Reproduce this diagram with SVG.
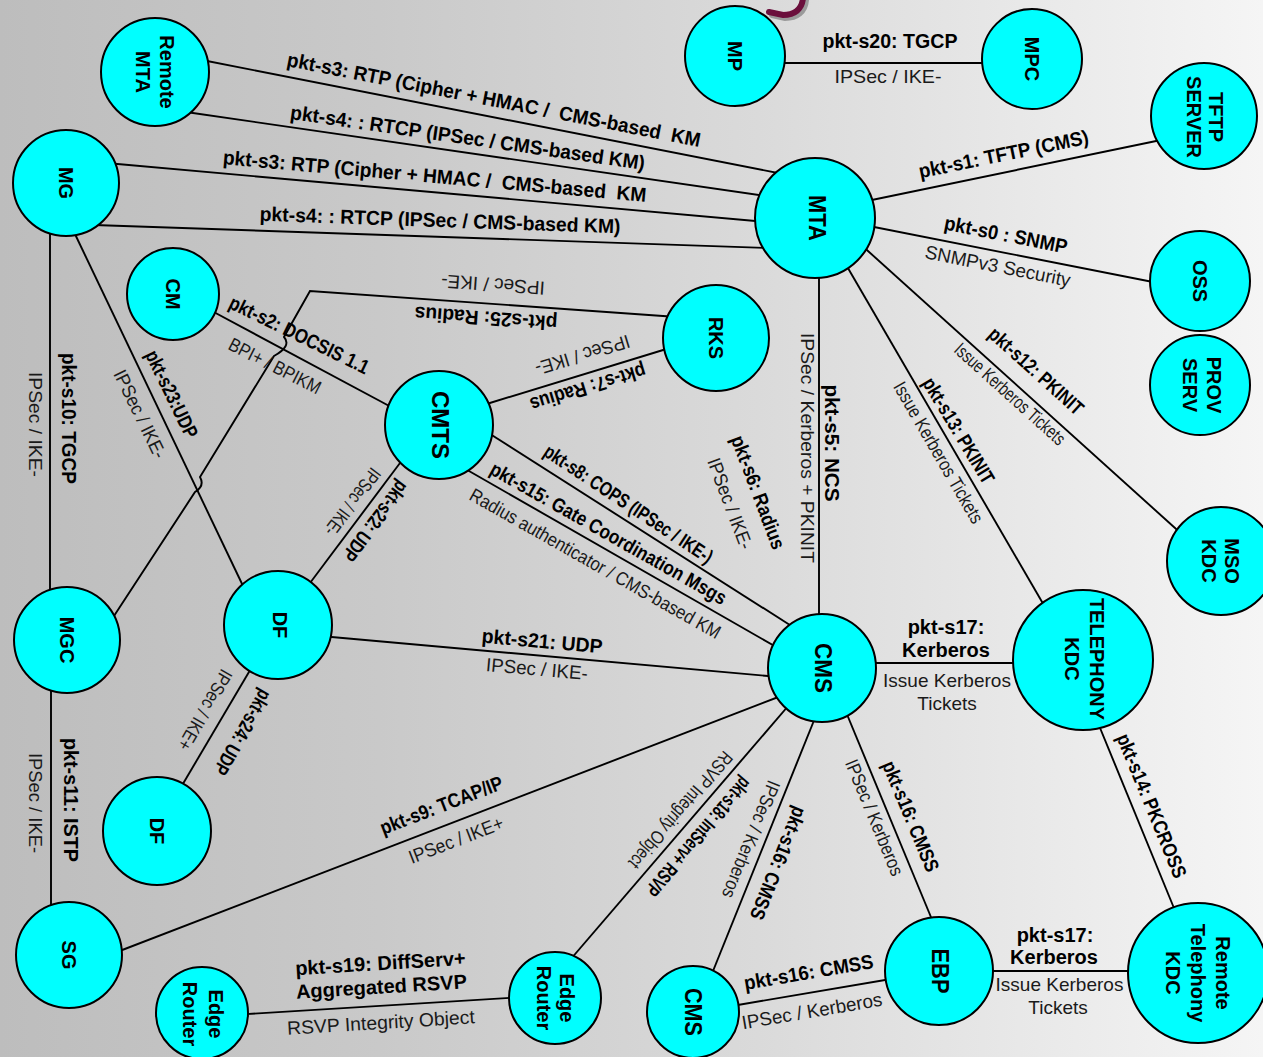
<svg xmlns="http://www.w3.org/2000/svg" width="1263" height="1057" viewBox="0 0 1263 1057">
<defs>
  <linearGradient id="bg" x1="0" y1="0" x2="1" y2="0">
    <stop offset="0" stop-color="#bdbdbd"/>
    <stop offset="0.3" stop-color="#c9c9c9"/>
    <stop offset="0.6" stop-color="#dadada"/>
    <stop offset="1" stop-color="#f5f5f5"/>
  </linearGradient>
</defs>
<style>
  .n circle { fill:#00ffff; stroke:#000; stroke-width:2; }
  .n text { font-family:"Liberation Sans", Arial, sans-serif; font-weight:bold; font-size:20px; fill:#000; text-anchor:middle; }
  #connectors line, #connectors path { stroke:#000; stroke-width:1.9; fill:none; }
  .b { font-family:"Liberation Sans", Arial, sans-serif; font-weight:bold; font-size:20px; fill:#000; text-anchor:middle; }
  .r { font-family:"Liberation Sans", Arial, sans-serif; font-size:19px; fill:#1a1a1a; text-anchor:middle; }
</style>
<rect width="1263" height="1057" fill="url(#bg)"/>
<path d="M806,0 C805,12 797,18 785,18 L772,15" stroke="#9a9a9a" stroke-width="6" fill="none" stroke-linecap="round"/>
<path d="M803,-2 C802,9 795,15 783,15 L769,12" stroke="#6b0f3c" stroke-width="6" fill="none" stroke-linecap="round"/>

<g id="connectors">
  <line id="e-rmta-mta-1" x1="202" y1="60" x2="783" y2="174"/>
  <line id="e-rmta-mta-2" x1="186" y1="112" x2="766" y2="196"/>
  <line id="e-mg-mta-1" x1="112" y1="163.5" x2="761" y2="221.5"/>
  <line id="e-mg-mta-2" x1="94" y1="225" x2="768" y2="248"/>
  <line id="e-mp-mpc" x1="780" y1="63" x2="987" y2="63"/>
  <line id="e-mta-tftp" x1="867" y1="201" x2="1161" y2="140"/>
  <line id="e-mta-oss" x1="869" y1="226" x2="1158" y2="283"/>
  <line id="e-mta-msokdc" x1="863" y1="246.5" x2="1180" y2="532.5"/>
  <line id="e-mta-telkdc" x1="845" y1="263" x2="1045" y2="607"/>
  <line id="e-mta-cms" x1="819" y1="275" x2="819" y2="616"/>
  <line id="e-cmts-cms-s8" x1="487" y1="432" x2="793" y2="627"/>
  <line id="e-cmts-cms-s15" x1="462" y1="467" x2="778" y2="648"/>
  <line id="e-cmts-rks" x1="485" y1="404.5" x2="668" y2="348.5"/>
  <path id="e-mgc-rks" d="M670,316.5 L310,291 L284,337 Q292,346 274,356 L200,477 Q205,486 195,492 L112,619"/>
  <line id="e-cm-cmts" x1="210" y1="310" x2="393" y2="408"/>
  <line id="e-mg-mgc" x1="50" y1="232" x2="50" y2="592"/>
  <line id="e-mg-df" x1="74" y1="232" x2="244" y2="588"/>
  <line id="e-mgc-sg" x1="51" y1="688" x2="51" y2="906"/>
  <line id="e-cmts-df" x1="403" y1="459" x2="310" y2="583"/>
  <line id="e-df-cms" x1="326" y1="636.5" x2="774" y2="676.5"/>
  <line id="e-df-df" x1="252.5" y1="666" x2="180.5" y2="788"/>
  <line id="e-sg-cms" x1="117" y1="952" x2="781" y2="696"/>
  <line id="e-cms-edge" x1="789" y1="705" x2="570" y2="960"/>
  <line id="e-cms-cms2" x1="815" y1="718" x2="711" y2="976"/>
  <line id="e-cms-ebp" x1="846" y1="712" x2="933" y2="922"/>
  <line id="e-cms-telkdc" x1="870" y1="663" x2="1019" y2="663"/>
  <line id="e-telkdc-rtelkdc" x1="1098" y1="723" x2="1176" y2="913"/>
  <line id="e-ebp-rtelkdc" x1="987" y1="971" x2="1134" y2="971"/>
  <line id="e-cms2-ebp" x1="732" y1="1006" x2="891" y2="979"/>
  <line id="e-edge-edge" x1="242" y1="1014.4" x2="514" y2="997.6"/>
</g>

<g id="connector-labels">
  <text class="b" xml:space="preserve" transform="translate(493.5,101.5) rotate(11.1)" y="5" textLength="421" lengthAdjust="spacingAndGlyphs">pkt-s3: RTP (Cipher + HMAC /  CMS-based  KM</text>
  <text class="b" transform="translate(467.5,139.5) rotate(8.2)" y="5" textLength="358" lengthAdjust="spacingAndGlyphs">pkt-s4: : RTCP (IPSec / CMS-based KM)</text>
  <text class="b" xml:space="preserve" transform="translate(434.5,178) rotate(5.1)" y="5" textLength="425" lengthAdjust="spacingAndGlyphs">pkt-s3: RTP (Cipher + HMAC /  CMS-based  KM</text>
  <text class="b" transform="translate(440,222) rotate(2)" y="5" textLength="361" lengthAdjust="spacingAndGlyphs">pkt-s4: : RTCP (IPSec / CMS-based KM)</text>
  <text class="b" transform="translate(890,43)" y="5" textLength="135" lengthAdjust="spacingAndGlyphs">pkt-s20: TGCP</text>
  <text class="r" transform="translate(888,76)" y="6.5" textLength="107" lengthAdjust="spacingAndGlyphs">IPSec / IKE-</text>
  <text class="b" transform="translate(1004,156) rotate(-11.6)" y="5" textLength="173" lengthAdjust="spacingAndGlyphs">pkt-s1: TFTP (CMS)</text>
  <text class="b" transform="translate(1005.5,236.5) rotate(11.2)" y="5" textLength="125" lengthAdjust="spacingAndGlyphs">pkt-s0 : SNMP</text>
  <text class="r" transform="translate(997.5,267.5) rotate(11.2)" y="5" textLength="148" lengthAdjust="spacingAndGlyphs">SNMPv3 Security</text>
  <text class="b" transform="translate(1035,372.5) rotate(42)" y="5" textLength="120" lengthAdjust="spacingAndGlyphs">pkt-s12: PKINIT</text>
  <text class="r" transform="translate(1010,394) rotate(42)" y="6.5" textLength="142" lengthAdjust="spacingAndGlyphs">Issue Kerberos Tickets</text>
  <text class="b" transform="translate(957,431.5) rotate(59)" y="5" textLength="120" lengthAdjust="spacingAndGlyphs">pkt-s13: PKINIT</text>
  <text class="r" transform="translate(938.5,452.5) rotate(60)" y="6.5" textLength="160" lengthAdjust="spacingAndGlyphs">Issue Kerberos Tickets</text>
  <text class="b" transform="translate(830,443) rotate(90)" y="5" textLength="117" lengthAdjust="spacingAndGlyphs">pkt-s5: NCS</text>
  <text class="r" transform="translate(807,448) rotate(90)" y="6.5" textLength="230" lengthAdjust="spacingAndGlyphs">IPSec / Kerberos + PKINIT</text>
  <text class="b" transform="translate(627.5,505.5) rotate(33.5)" y="5" textLength="198" lengthAdjust="spacingAndGlyphs">pkt-s8: COPS (IPSec / IKE-)</text>
  <text class="b" transform="translate(607.5,535) rotate(29.5)" y="5" textLength="268" lengthAdjust="spacingAndGlyphs">pkt-s15: Gate Coordination Msgs</text>
  <text class="r" transform="translate(595,564) rotate(29.5)" y="6" textLength="285" lengthAdjust="spacingAndGlyphs">Radius authenticator / CMS-based KM</text>
  <text class="b" transform="translate(587.5,386) rotate(163)" y="5" textLength="120" lengthAdjust="spacingAndGlyphs">pkt-s7: Radius</text>
  <text class="r" transform="translate(582.5,355) rotate(163)" y="6.5" textLength="98" lengthAdjust="spacingAndGlyphs">IPSec / IKE-</text>
  <text class="b" transform="translate(486,316.5) rotate(184)" y="5" textLength="143" lengthAdjust="spacingAndGlyphs">pkt-s25: Radius</text>
  <text class="r" transform="translate(493,284.5) rotate(184)" y="6.5" textLength="104" lengthAdjust="spacingAndGlyphs">IPSec / IKE-</text>
  <text class="b" transform="translate(298.5,336.5) rotate(26)" y="5" textLength="153" lengthAdjust="spacingAndGlyphs">pkt-s2: DOCSIS 1.1</text>
  <text class="r" transform="translate(275,366) rotate(27)" y="6.5" textLength="101" lengthAdjust="spacingAndGlyphs">BPI+ / BPIKM</text>
  <text class="b" transform="translate(67,418.5) rotate(90)" y="5" textLength="131" lengthAdjust="spacingAndGlyphs">pkt-s10: TGCP</text>
  <text class="r" transform="translate(35,424.5) rotate(90)" y="6.5" textLength="105" lengthAdjust="spacingAndGlyphs">IPSec / IKE-</text>
  <text class="b" transform="translate(170,395) rotate(64)" y="5" textLength="95" lengthAdjust="spacingAndGlyphs">pkt-s23:UDP</text>
  <text class="r" transform="translate(140,414) rotate(64)" y="6.5" textLength="96" lengthAdjust="spacingAndGlyphs">IPSec / IKE-</text>
  <text class="b" transform="translate(68.5,800) rotate(90)" y="5" textLength="124" lengthAdjust="spacingAndGlyphs">pkt-s11: ISTP</text>
  <text class="r" transform="translate(35,803) rotate(90)" y="6.5" textLength="100" lengthAdjust="spacingAndGlyphs">IPSec / IKE-</text>
  <text class="b" transform="translate(374,520) rotate(127)" y="5" textLength="95" lengthAdjust="spacingAndGlyphs">pkt-s22: UDP</text>
  <text class="r" transform="translate(352.5,502) rotate(127)" y="6.5" textLength="80" lengthAdjust="spacingAndGlyphs">IPSec / IKE-</text>
  <text class="b" transform="translate(542,643) rotate(5.1)" y="5" textLength="121" lengthAdjust="spacingAndGlyphs">pkt-s21: UDP</text>
  <text class="r" transform="translate(537,669) rotate(5.1)" y="6.5" textLength="102" lengthAdjust="spacingAndGlyphs">IPSec / IKE-</text>
  <text class="b" transform="translate(241,731.5) rotate(120)" y="5" textLength="95" lengthAdjust="spacingAndGlyphs">pkt-s24: UDP</text>
  <text class="r" transform="translate(205,710) rotate(120)" y="6.5" textLength="90" lengthAdjust="spacingAndGlyphs">IPSec / IKE+</text>
  <text class="b" transform="translate(442,807) rotate(-21.1)" y="5" textLength="130" lengthAdjust="spacingAndGlyphs">pkt-s9: TCAP/IP</text>
  <text class="r" transform="translate(456,840) rotate(-21.1)" y="6.5" textLength="100" lengthAdjust="spacingAndGlyphs">IPSec / IKE+</text>
  <text class="b" transform="translate(697,835.5) rotate(130.7)" y="5" textLength="150" lengthAdjust="spacingAndGlyphs">pkt-s18: IntServ+ RSVP</text>
  <text class="r" transform="translate(679.5,809) rotate(130.7)" y="5" textLength="148" lengthAdjust="spacingAndGlyphs">RSVP Integrity Object</text>
  <text class="b" transform="translate(776.5,862.5) rotate(112)" y="5" textLength="120" lengthAdjust="spacingAndGlyphs">pkt-s16: CMSS</text>
  <text class="r" transform="translate(751,839.5) rotate(112)" y="6.5" textLength="125" lengthAdjust="spacingAndGlyphs">IPSec / Kerberos</text>
  <text class="b" transform="translate(909,817) rotate(67.5)" y="5" textLength="118" lengthAdjust="spacingAndGlyphs">pkt-s16: CMSS</text>
  <text class="r" transform="translate(874.5,817.5) rotate(67.5)" y="6.5" textLength="124" lengthAdjust="spacingAndGlyphs">IPSec / Kerberos</text>
  <text class="b" transform="translate(756.5,493) rotate(69.3)" y="5" textLength="120" lengthAdjust="spacingAndGlyphs">pkt-s6: Radius</text>
  <text class="r" transform="translate(730,503.5) rotate(69.3)" y="6.5" textLength="96" lengthAdjust="spacingAndGlyphs">IPSec / IKE-</text>
  <text class="b" transform="translate(1150,806.5) rotate(67.7)" y="5" textLength="154" lengthAdjust="spacingAndGlyphs">pkt-s14: PKCROSS</text>
  <text class="b" transform="translate(809,974) rotate(-9.65)" y="5" textLength="131" lengthAdjust="spacingAndGlyphs">pkt-s16: CMSS</text>
  <text class="r" transform="translate(812,1011) rotate(-9.65)" y="6.5" textLength="142" lengthAdjust="spacingAndGlyphs">IPSec / Kerberos</text>
  <text class="b" x="946" y="634">pkt-s17:</text>
  <text class="b" x="946" y="657">Kerberos</text>
  <text class="r" x="947" y="687">Issue Kerberos</text>
  <text class="r" x="947" y="710">Tickets</text>
  <text class="b" x="1055" y="942">pkt-s17:</text>
  <text class="b" x="1054" y="964">Kerberos</text>
  <text class="r" x="1059.5" y="991">Issue Kerberos</text>
  <text class="r" x="1058" y="1014">Tickets</text>
  <text class="b" transform="translate(380.5,965) rotate(-3.5)" y="5">pkt-s19: DiffServ+</text>
  <text class="b" transform="translate(381.5,988.5) rotate(-3.5)" y="5">Aggregated RSVP</text>
  <text class="r" transform="translate(381,1024) rotate(-3.5)" y="5" textLength="188" lengthAdjust="spacingAndGlyphs">RSVP Integrity Object</text>
</g>

<g id="node-remote-mta" class="n"><circle cx="155" cy="72" r="54"/><text transform="translate(155,72) rotate(90)"><tspan x="0" y="-4.5">Remote</tspan><tspan x="0" y="19.5">MTA</tspan></text></g>
<g id="node-mg" class="n"><circle cx="66" cy="183" r="53"/><text transform="translate(66,183) rotate(90)" y="7">MG</text></g>
<g id="node-cm" class="n"><circle cx="173" cy="294" r="46"/><text transform="translate(173,294) rotate(90)" y="7">CM</text></g>
<g id="node-mp" class="n"><circle cx="735" cy="56" r="50"/><text transform="translate(735,56) rotate(90)" y="7">MP</text></g>
<g id="node-mpc" class="n"><circle cx="1032" cy="59" r="50"/><text transform="translate(1032,59) rotate(90)" y="7">MPC</text></g>
<g id="node-tftp" class="n"><circle cx="1204" cy="116" r="53"/><text transform="translate(1205,117) rotate(90)"><tspan x="0" y="-4">TFTP</tspan><tspan x="0" y="18">SERVER</tspan></text></g>
<g id="node-mta" class="n"><circle cx="815" cy="218" r="60"/><text transform="translate(817,218) rotate(90)" y="8.5" style="font-size:24px" textLength="46" lengthAdjust="spacingAndGlyphs">MTA</text></g>
<g id="node-oss" class="n"><circle cx="1200" cy="281" r="50"/><text transform="translate(1200,281) rotate(90)" y="7">OSS</text></g>
<g id="node-prov" class="n"><circle cx="1200" cy="385" r="50"/><text transform="translate(1202,385) rotate(90)"><tspan x="0" y="-5">PROV</tspan><tspan x="0" y="19">SERV</tspan></text></g>
<g id="node-msokdc" class="n"><circle cx="1221" cy="561" r="54"/><text transform="translate(1220.5,561) rotate(90)"><tspan x="0" y="-4.5">MSO</tspan><tspan x="0" y="18.5">KDC</tspan></text></g>
<g id="node-rks" class="n"><circle cx="716" cy="338" r="53"/><text transform="translate(716,338) rotate(90)" y="7">RKS</text></g>
<g id="node-cmts" class="n"><circle cx="439" cy="425" r="54"/><text transform="translate(440,425) rotate(90)" y="8.5" style="font-size:24px">CMTS</text></g>
<g id="node-df1" class="n"><circle cx="278" cy="625" r="54"/><text transform="translate(280,625) rotate(90)" y="7">DF</text></g>
<g id="node-mgc" class="n"><circle cx="67" cy="640" r="53"/><text transform="translate(67,640) rotate(90)" y="7">MGC</text></g>
<g id="node-df2" class="n"><circle cx="157" cy="831" r="54"/><text transform="translate(157,831) rotate(90)" y="7">DF</text></g>
<g id="node-sg" class="n"><circle cx="69" cy="955" r="53"/><text transform="translate(69,955) rotate(90)" y="7">SG</text></g>
<g id="node-edge1" class="n"><circle cx="202" cy="1013" r="46"/><text transform="translate(203,1014) rotate(90)"><tspan x="0" y="-6">Edge</tspan><tspan x="0" y="20">Router</tspan></text></g>
<g id="node-edge2" class="n"><circle cx="555" cy="998" r="46"/><text transform="translate(555,998) rotate(90)"><tspan x="0" y="-4.5">Edge</tspan><tspan x="0" y="18.5">Router</tspan></text></g>
<g id="node-cms2" class="n"><circle cx="693" cy="1012" r="46"/><text transform="translate(693,1012) rotate(90)" y="8.5" style="font-size:24px" textLength="48" lengthAdjust="spacingAndGlyphs">CMS</text></g>
<g id="node-cms" class="n"><circle cx="822" cy="668" r="54"/><text transform="translate(823,668) rotate(90)" y="8.5" style="font-size:24px" textLength="50" lengthAdjust="spacingAndGlyphs">CMS</text></g>
<g id="node-telkdc" class="n"><circle cx="1083" cy="660" r="70"/><text transform="translate(1084.5,659) rotate(90)"><tspan x="0" y="-5.5">TELEPHONY</tspan><tspan x="0" y="19.5">KDC</tspan></text></g>
<g id="node-ebp" class="n"><circle cx="939" cy="971" r="54"/><text transform="translate(940,971) rotate(90)" y="8.5" style="font-size:24px" textLength="45" lengthAdjust="spacingAndGlyphs">EBP</text></g>
<g id="node-rtelkdc" class="n"><circle cx="1198" cy="973" r="70"/><text transform="translate(1198,973) rotate(90)"><tspan x="0" y="-18">Remote</tspan><tspan x="0" y="7">Telephony</tspan><tspan x="0" y="32">KDC</tspan></text></g>
</svg>
